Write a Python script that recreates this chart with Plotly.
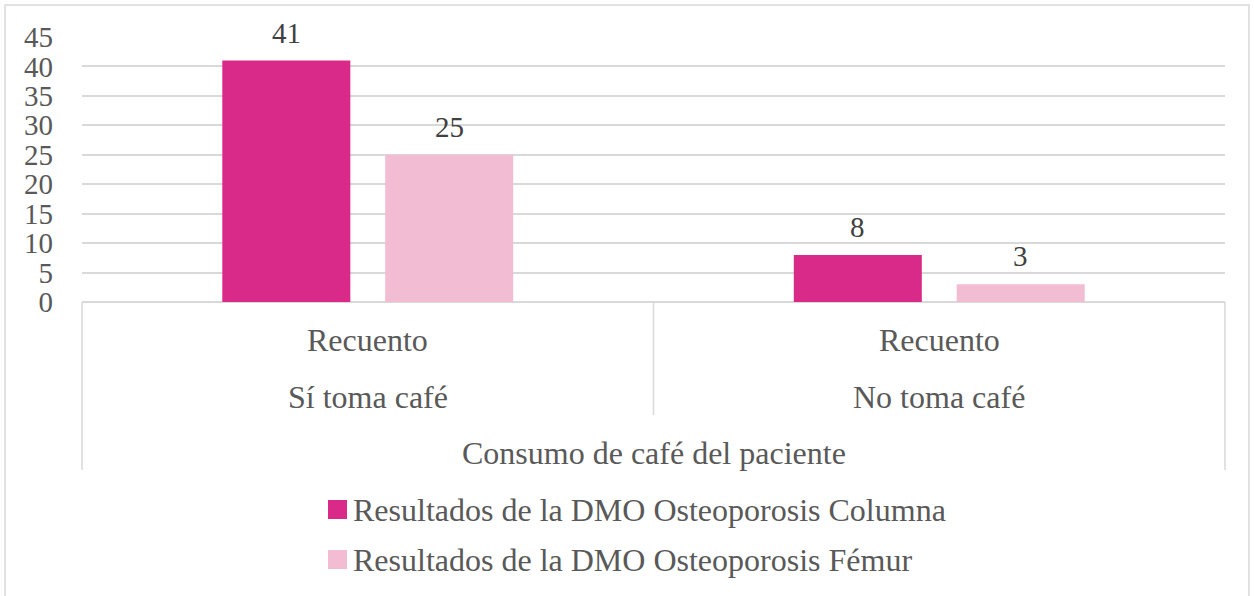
import plotly.graph_objects as go

categories = ["Sí toma café", "No toma café"]
inner_labels = ["Recuento", "Recuento"]
axis_title = "Consumo de café del paciente"
series_names = ["Resultados de la DMO Osteoporosis Columna",
                "Resultados de la DMO Osteoporosis Fémur"]
columna = [41, 8]
femur = [25, 3]
colors = ["#DA2A89", "#F2BDD2"]

FONT = "'Liberation Serif', 'Times New Roman', Times, 'DejaVu Serif', serif"
TXT = "#595959"

W, H = 1254, 596
L, R, T, B = 82, 1225, 37, 302
BARGAP, GROUPGAP = 0.43, 0.214


def px_x(p):
    return (p - L) / (R - L)


def px_y(p):
    return (B - p) / (B - T)


fig = go.Figure()
annotations = []
cat_px = (R - L) / len(categories)
slot = (1 - BARGAP) / 2
for k, (name, vals, col) in enumerate(zip(series_names, [columna, femur], colors)):
    fig.add_trace(go.Bar(
        x=categories, y=vals, name=name, marker=dict(color=col, line=dict(width=0)),
        showlegend=False, hoverinfo="skip",
    ))
    shift = (k - 0.5) * slot * cat_px
    for c, v in zip(categories, vals):
        annotations.append(dict(x=c, xref="x", y=v, yref="y", text=str(v),
                                xshift=shift, yshift=28, showarrow=False,
                                yanchor="middle",
                                font=dict(family=FONT, size=29, color="#404040")))

shapes = []
shapes.append(dict(type="rect", xref="paper", yref="paper",
                   x0=px_x(5), x1=px_x(1249), y0=px_y(600), y1=px_y(5),
                   line=dict(color="#D9D9D9", width=1.5), layer="below"))
shapes.append(dict(type="line", xref="paper", yref="paper", x0=0, x1=0,
                   y0=px_y(470), y1=0, line=dict(color="#D9D9D9", width=1.5)))
shapes.append(dict(type="line", xref="paper", yref="paper", x0=1, x1=1,
                   y0=px_y(470), y1=0, line=dict(color="#D9D9D9", width=1.5)))
shapes.append(dict(type="line", xref="x", yref="paper", x0=0.5, x1=0.5,
                   y0=px_y(415), y1=0, line=dict(color="#D9D9D9", width=1.5)))

for cat, inner in zip(categories, inner_labels):
    annotations.append(dict(x=cat, xref="x", y=px_y(340), yref="paper", text=inner,
                            showarrow=False, font=dict(family=FONT, size=32, color=TXT),
                            yanchor="middle"))
    annotations.append(dict(x=cat, xref="x", y=px_y(397), yref="paper", text=cat,
                            showarrow=False, font=dict(family=FONT, size=32, color=TXT),
                            yanchor="middle"))
annotations.append(dict(x=0.5, xref="paper", y=px_y(453), yref="paper", text=axis_title,
                        showarrow=False, font=dict(family=FONT, size=32, color=TXT),
                        yanchor="middle"))

for i, (name, col) in enumerate(zip(series_names, colors)):
    cy = 510 + 50 * i
    shapes.append(dict(type="rect", xref="paper", yref="paper",
                       x0=px_x(328), x1=px_x(347), y0=px_y(cy + 9), y1=px_y(cy - 10),
                       fillcolor=col, line=dict(width=0)))
    annotations.append(dict(x=px_x(351), xref="paper", y=px_y(cy), yref="paper", text=name,
                            showarrow=False, xanchor="left", yanchor="middle",
                            font=dict(family=FONT, size=32, color=TXT)))

fig.update_layout(
    width=W, height=H,
    margin=dict(l=L, r=W - R, t=T, b=H - B),
    paper_bgcolor="white", plot_bgcolor="white",
    barmode="group", bargap=BARGAP, bargroupgap=GROUPGAP,
    shapes=shapes, annotations=annotations,
    xaxis=dict(showticklabels=False, showgrid=False, zeroline=False,
               showline=False, range=[-0.5, 1.5]),
    yaxis=dict(range=[0, 45], dtick=5, tick0=0, showgrid=True,
               gridcolor="#D9D9D9", gridwidth=1.5, zeroline=True,
               zerolinecolor="#D9D9D9", zerolinewidth=1.5,
               showline=False, ticks="", ticklabelstandoff=28,
               tickfont=dict(family=FONT, size=29, color=TXT)),
    font=dict(family=FONT, color=TXT),
)

fig.write_html("out.html", config={"displayModeBar": False},
               post_script="document.body.style.margin='0';document.body.style.overflow='hidden';")
